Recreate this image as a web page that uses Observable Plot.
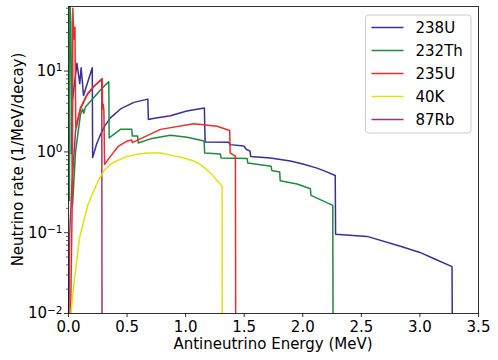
<!DOCTYPE html>
<html>
<head>
<meta charset="utf-8">
<script src="https://cdn.jsdelivr.net/npm/d3@7"></script>
<script src="https://cdn.jsdelivr.net/npm/@observablehq/plot@0.6"></script>
<style>
  html, body { margin: 0; padding: 0; background: #fff; }
  #chart { width: 498px; height: 360px; }
  svg { font-family: "DejaVu Sans", sans-serif; }
</style>
</head>
<body>
<div id="chart"></div>
<script>
// ---------- data ----------
const isotopes = ["238U", "232Th", "235U", "40K", "87Rb"];
const colors = ["#3a2f96", "#1f8a3d", "#ec2b2b", "#e2e208", "#9a3a6c"];

const u238E = [0.024, 0.026, 0.072, 0.096, 0.108, 0.128, 0.203, 0.206, 0.24, 0.273, 0.31, 0.358, 0.444, 0.558, 0.677, 0.682, 0.734, 0.87, 1.01, 1.16, 1.166, 1.365, 1.38, 1.496, 1.52, 1.55, 1.555, 1.724, 1.894, 2.0, 2.122, 2.2, 2.277, 2.28, 2.549, 2.833, 3.0, 3.117, 3.274, 3.276];
const u238R = [0.95, 3.5, 12.5, 7.0, 11.0, 5.0, 11.0, 0.85, 1.25, 1.64, 2.1, 2.64, 3.4, 4.1, 4.5, 2.52, 2.6, 2.8, 3.2, 3.5, 1.33, 1.32, 1.23, 1.18, 1.07, 1.02, 0.88, 0.84, 0.77, 0.71, 0.63, 0.57, 0.51, 0.096, 0.09, 0.068, 0.057, 0.048, 0.038, 0.01];

const th232E = [0.008, 0.011, 0.02, 0.035, 0.06, 0.102, 0.12, 0.13, 0.145, 0.216, 0.28, 0.344, 0.347, 0.444, 0.54, 0.545, 0.59, 0.595, 0.7, 0.87, 1.013, 1.158, 1.162, 1.297, 1.302, 1.525, 1.53, 1.73, 1.735, 1.803, 1.807, 1.951, 2.065, 2.07, 2.256, 2.258];
const th232R = [0.25, 80, 40, 0.22, 1.0, 2.9, 3.4, 3.0, 3.6, 4.7, 6.0, 7.4, 1.49, 1.9, 1.9, 1.57, 1.57, 1.29, 1.45, 1.61, 1.52, 1.36, 0.97, 0.945, 0.84, 0.83, 0.73, 0.665, 0.59, 0.565, 0.44, 0.40, 0.35, 0.29, 0.218, 0.01];

const u235E = [0.018, 0.034, 0.037, 0.045, 0.055, 0.062, 0.102, 0.16, 0.216, 0.288, 0.291, 0.296, 0.302, 0.308, 0.358, 0.427, 0.5, 0.54, 0.545, 0.785, 1.069, 1.269, 1.376, 1.38, 1.425, 1.427];
const u235R = [0.01, 0.4, 60, 25, 35, 2.0, 3.5, 5.2, 6.5, 8.1, 3.4, 3.9, 3.3, 0.70, 0.88, 1.18, 1.36, 1.4, 1.3, 1.9, 2.23, 2.08, 1.84, 0.97, 0.88, 0.01];

const k40E = [0.02, 0.051, 0.094, 0.165, 0.25, 0.307, 0.358, 0.4, 0.5, 0.6, 0.672, 0.785, 0.927, 1.0, 1.069, 1.126, 1.212, 1.311, 1.312];
const k40R = [0.01, 0.027, 0.086, 0.22, 0.43, 0.6, 0.70, 0.76, 0.88, 0.94, 0.97, 0.97, 0.88, 0.83, 0.77, 0.70, 0.55, 0.375, 0.01];

const rb87E = [0.004, 0.01, 0.03, 0.06, 0.102, 0.16, 0.216, 0.284, 0.286];
const rb87R = [0.01, 0.1, 0.4, 1.8, 3.4, 5.1, 6.4, 7.9, 0.01];

const xTicks = [0, 0.5, 1, 1.5, 2, 2.5, 3, 3.5];
const yMajor = [0.01, 0.1, 1, 10];

// ---------- build ----------
const seriesE = [u238E, th232E, u235E, k40E, rb87E];
const seriesR = [u238R, th232R, u235R, k40R, rb87R];
const series = isotopes.map((name, i) => seriesE[i].map((e, j) => ({name, E: e, R: seriesR[i][j]})));
const drawOrder = [0, 1, 4, 2, 3];

const yMinor = [];
for (let k = -2; k <= 1; k++) for (let m = 2; m <= 9; m++) {
  const v = m * Math.pow(10, k);
  if (v < 63) yMinor.push(v);
}

const W = 498, H = 360, mL = 68, mR = 20, mT = 6, mB = 47;
const fs = 15;

const plot = Plot.plot({
  width: W, height: H,
  marginLeft: mL, marginRight: mR, marginTop: mT, marginBottom: mB,
  style: {fontFamily: "DejaVu Sans, sans-serif", fontSize: fs + "px", background: "white", color: "black"},
  x: {domain: [0, 3.5]},
  y: {type: "log", domain: [0.01, 63]},
  marks: [
    ...drawOrder.map(i => Plot.line(series[i], {x: "E", y: "R", stroke: colors[i], strokeWidth: 1.5, clip: true})),
    Plot.frame({stroke: "black", strokeWidth: 0.8}),
    Plot.axisX({ticks: xTicks, tickFormat: d => d.toFixed(1), tickSize: 4, tickPadding: 4, fontSize: fs, label: null, strokeWidth: 0.8}),
    Plot.axisY({ticks: yMajor, tickFormat: d => "10^" + Math.round(Math.log10(d)), tickSize: 4, tickPadding: 2, fontSize: fs, label: null, strokeWidth: 0.8}),
    Plot.axisY({ticks: yMinor, tickFormat: () => "", tickSize: 2, label: null, strokeWidth: 0.6})
  ]
});

const svg = d3.select(plot);
// superscript exponents on y tick labels
svg.selectAll("text").each(function() {
  const t = this.textContent;
  const m = /^10\^(-?\d+)$/.exec(t);
  if (m) {
    const el = d3.select(this);
    el.text("");
    el.append("tspan").text("10");
    el.append("tspan").attr("dy", "-0.45em").attr("font-size", "70%").text(m[1].replace("-", "\u2212"));
  }
});

// axis titles
svg.append("text").attr("x", (mL + W - mR) / 2).attr("y", 348.5).attr("text-anchor", "middle")
  .attr("font-size", fs).attr("fill", "black").text("Antineutrino Energy (MeV)");
svg.append("text").attr("transform", `translate(22.5,${(mT + H - mB) / 2}) rotate(-90)`).attr("text-anchor", "middle")
  .attr("font-size", fs).attr("fill", "black").text("Neutrino rate (1/MeV/decay)");

// legend (upper right, inside axes)
const lg = svg.append("g").attr("text-anchor", "start");
const lx = 365.5, ly = 15, lw = 105.5, lh = 118, rowH = 23;
lg.append("rect").attr("x", lx).attr("y", ly).attr("width", lw).attr("height", lh).attr("rx", 3)
  .attr("fill", "white").attr("fill-opacity", 0.8).attr("stroke", "#cccccc").attr("stroke-width", 1);
isotopes.forEach((name, i) => {
  const cy = ly + 12.5 + i * rowH;
  lg.append("line").attr("x1", lx + 6).attr("x2", lx + 38).attr("y1", cy).attr("y2", cy)
    .attr("stroke", colors[i]).attr("stroke-width", 1.5);
  lg.append("text").attr("x", lx + 50).attr("y", cy + 5.5).attr("text-anchor", "start")
    .attr("font-size", fs).attr("fill", "black").text(name);
});

document.getElementById("chart").appendChild(plot);
</script>
</body>
</html>
